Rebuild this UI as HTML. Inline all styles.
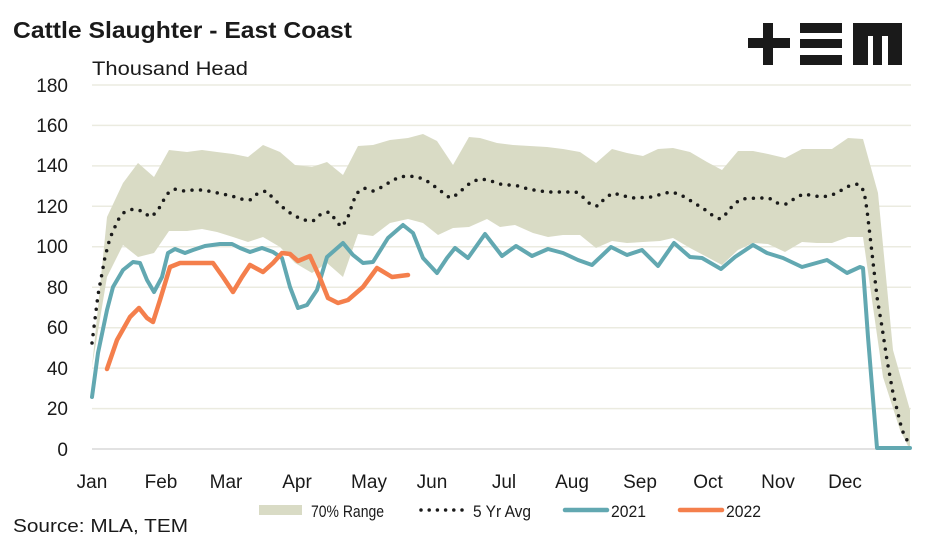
<!DOCTYPE html>
<html><head><meta charset="utf-8"><style>
body{margin:0;background:#fff;}
svg{display:block;font-family:"Liberation Sans",sans-serif;}
</style></head><body>
<svg width="947" height="543" viewBox="0 0 947 543">
<text x="13" y="38" font-size="23" font-weight="bold" fill="#1a1a1a" textLength="339" lengthAdjust="spacingAndGlyphs">Cattle Slaughter - East Coast</text>
<text x="92" y="75" font-size="19" fill="#1a1a1a" textLength="156" lengthAdjust="spacingAndGlyphs">Thousand Head</text>
<g fill="#1a1a1a">
<rect x="763" y="23" width="10" height="42"/><rect x="748" y="38" width="42" height="10"/>
<rect x="800" y="23" width="42" height="10"/><rect x="800" y="39" width="42" height="9"/><rect x="800" y="55" width="42" height="10"/>
<path d="M853 23 H902 V65 H888 V36 H882 V65 H873 V36 H868 V65 H853 Z"/>
</g>
<g stroke="#ebebe0" stroke-width="1.5">
<line x1="92" x2="911" y1="85" y2="85"/><line x1="92" x2="911" y1="125.4" y2="125.4"/>
<line x1="92" x2="911" y1="165.9" y2="165.9"/><line x1="92" x2="911" y1="206.3" y2="206.3"/>
<line x1="92" x2="911" y1="246.8" y2="246.8"/><line x1="92" x2="911" y1="287.2" y2="287.2"/>
<line x1="92" x2="911" y1="327.7" y2="327.7"/><line x1="92" x2="911" y1="368.1" y2="368.1"/>
<line x1="92" x2="911" y1="408.6" y2="408.6"/>
</g>
<line x1="92" x2="911" y1="449" y2="449" stroke="#d9d9d9" stroke-width="1.5"/>
<g font-size="19" fill="#1a1a1a" text-anchor="end">
<text x="68" y="92">180</text><text x="68" y="132">160</text><text x="68" y="172">140</text>
<text x="68" y="213">120</text><text x="68" y="253">100</text><text x="68" y="294">80</text>
<text x="68" y="334">60</text><text x="68" y="375">40</text><text x="68" y="415">20</text><text x="68" y="456">0</text>
</g>
<g font-size="19" fill="#1a1a1a" text-anchor="middle">
<text x="92" y="488">Jan</text><text x="161" y="488">Feb</text><text x="226" y="488">Mar</text>
<text x="297" y="488">Apr</text><text x="369" y="488">May</text><text x="432" y="488">Jun</text>
<text x="504" y="488">Jul</text><text x="572" y="488">Aug</text><text x="640" y="488">Sep</text>
<text x="708" y="488">Oct</text><text x="778" y="488">Nov</text><text x="845" y="488">Dec</text>
</g>
<path fill="#d9dbc5" d="M92,367 L107,217 123,183 138,163 154,177 169,150 187,152 202,150 217,152 233,154 248,157 263,145 280,152 295,165 312,167 327,162 343,175 358,146 373,145 390,140 408,138 423,134 437,141 453,165 469,137 480,138 497,143 513,145 530,146 547,147 563,149 580,152 596,163 612,149 627,153 643,156 658,149 673,148 690,152 707,162 722,170 738,151 753,151 768,154 785,158 802,149 817,149 832,149 848,138 863,139 878,193 893,350 910,410 910,450 900,430 883,377 872,300 863,237 848,237 832,243 817,243 802,242 785,252 768,244 753,243 738,250 722,265 707,257 690,248 673,238 660,241 643,242 627,243 612,241 596,248 580,235 563,235 548,237 533,233 515,225 500,227 487,219 469,227 453,228 438,235 423,223 408,219 390,223 373,236 358,234 343,277 327,263 312,273 295,263 280,247 263,237 248,242 233,237 217,232 202,229 187,231 169,231 154,253 138,257 123,245 107,277 Z"/>
<polyline fill="none" stroke="#62a8b1" stroke-width="4" stroke-linejoin="round" stroke-linecap="round" points="92,397 98,353 107,310 113,287 123,270 133,262 140,263 147,280 154,292 162,277 168,253 175,249 185,253 193,250 205,246 220,244 232,244 240,248 250,252 262,248 273,252 282,258 290,287 298,308 307,305 317,290 327,257 343,243 353,255 363,263 373,262 388,238 403,225 413,233 423,258 437,273 447,258 455,248 468,258 485,234 502,256 516,246 532,256 548,249 563,253 578,260 592,265 611,247 627,255 642,250 658,266 674,243 690,257 702,258 721,269 735,257 753,245 767,253 783,258 802,267 827,260 847,273 860,267 863,268 868,337 877,448 893,448 910,448"/>
<polyline fill="none" stroke="#f47f4c" stroke-width="4.5" stroke-linejoin="round" stroke-linecap="round" points="107,369 117,340 130,317 139,308 147,318 153,322 160,300 170,267 180,263 197,263 213,263 223,277 233,292 242,277 250,265 263,272 273,263 282,253 290,254 298,261 310,256 320,278 328,298 338,303 348,300 363,287 377,268 392,277 408,275"/>
<polyline fill="none" stroke="#1a1a1a" stroke-width="3.5" stroke-dasharray="0 8.5" stroke-linecap="round" stroke-linejoin="round" points="92,343 98,295 105,257 110,238 118,220 123,213 133,209 142,211 150,217 157,212 167,194 174,189 184,191 193,190 203,190 213,192 223,194 232,196 241,199 250,200 257,194 266,191 273,198 279,204 287,211 295,216 304,220 313,221 321,214 329,212 335,219 341,227 347,220 353,202 357,193 364,188 373,191 382,187 390,182 399,177 408,176 418,177 427,181 434,186 442,192 450,198 458,194 465,187 473,181 482,179 491,181 500,184 519,186 528,189 547,192 566,192 576,192 584,198 591,205 598,206 605,198 613,193 632,198 651,197 670,192 679,194 688,199 696,204 704,209 712,215 720,219 727,213 733,205 741,199 759,198 769,198 777,203 786,204 794,199 803,194 822,197 832,195 840,191 849,186 858,184 864,191 867,210 872,253 877,297 882,327 887,360 893,393 902,430 908,442"/>
<rect x="259" y="505" width="43" height="10" fill="#d9dbc5"/>
<text x="311" y="517" font-size="17" fill="#1a1a1a" textLength="73" lengthAdjust="spacingAndGlyphs">70% Range</text>
<line x1="421" x2="462" y1="510" y2="510" stroke="#1a1a1a" stroke-width="3.5" stroke-dasharray="0 8.2" stroke-linecap="round"/>
<text x="473" y="517" font-size="17" fill="#1a1a1a" textLength="58" lengthAdjust="spacingAndGlyphs">5 Yr Avg</text>
<line x1="565" x2="607" y1="510" y2="510" stroke="#62a8b1" stroke-width="4.5" stroke-linecap="round"/>
<text x="611" y="517" font-size="17" fill="#1a1a1a" textLength="35" lengthAdjust="spacingAndGlyphs">2021</text>
<line x1="680" x2="722" y1="510" y2="510" stroke="#f47f4c" stroke-width="4.5" stroke-linecap="round"/>
<text x="726" y="517" font-size="17" fill="#1a1a1a" textLength="35" lengthAdjust="spacingAndGlyphs">2022</text>
<text x="13" y="532" font-size="18" fill="#1a1a1a" textLength="175" lengthAdjust="spacingAndGlyphs">Source: MLA, TEM</text>
</svg>
</body></html>
